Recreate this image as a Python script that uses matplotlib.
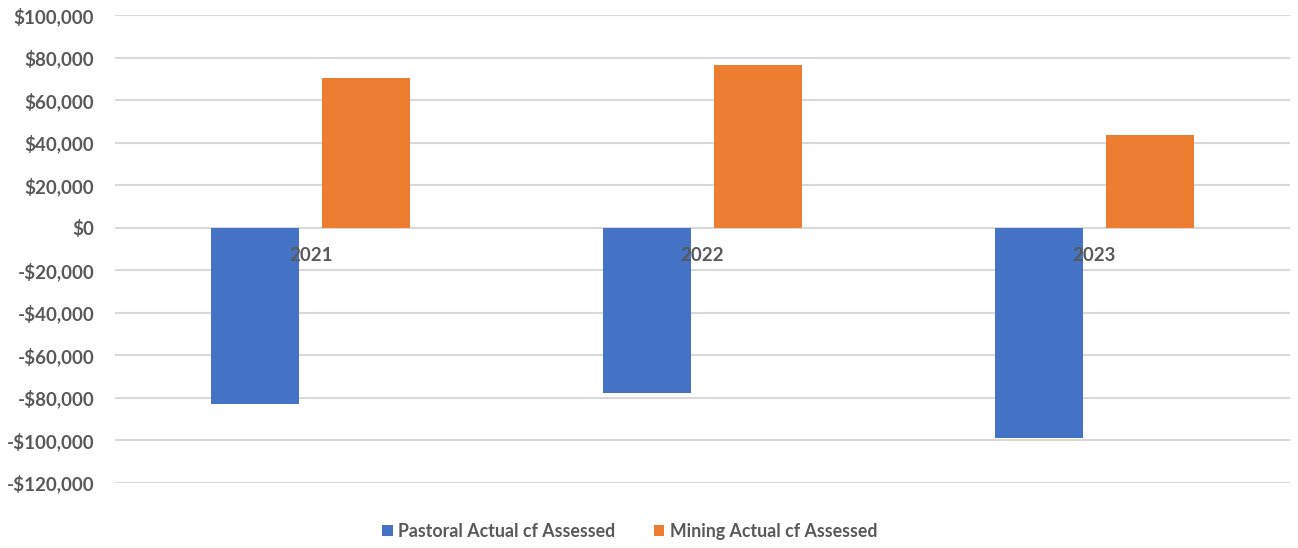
import matplotlib.pyplot as plt
import matplotlib.ticker as mticker
import numpy as np

years = ['2021', '2022', '2023']
pastoral = [-83000, -77900, -98800]
mining = [70400, 76500, 43500]
series_names = ['Pastoral Actual cf Assessed', 'Mining Actual cf Assessed']

blue = '#4472C4'
orange = '#ED7D31'
text_grey = '#595959'

plt.rcParams['font.family'] = ['Lato', 'DejaVu Sans']
plt.rcParams['font.weight'] = 'bold'

fig = plt.figure(figsize=(12.98, 5.48), dpi=100)
ax = fig.add_axes([0.0886, 0.1192, 0.9052, 0.8534])

x = np.arange(len(years))
w = 0.2245
off = 0.1416
b1 = ax.bar(x - off, pastoral, w, color=blue, label=series_names[0], zorder=3)
b2 = ax.bar(x + off, mining, w, color=orange, label=series_names[1], zorder=3)

ax.set_xlim(-0.5, len(years) - 0.5)
ax.set_ylim(-120000, 100000)
ax.set_yticks(np.arange(-120000, 100001, 20000))
ax.yaxis.set_major_formatter(mticker.FuncFormatter(
    lambda v, p: f'-${abs(v):,.0f}' if v < 0 else f'${v:,.0f}'))
ax.tick_params(axis='y', length=0, pad=15, labelsize=13.5, labelcolor=text_grey)
ax.set_xticks([])
ax.grid(axis='y', color='#d9d9d9', linewidth=1.5, zorder=0)
for s in ax.spines.values():
    s.set_visible(False)

# year labels sit just under the zero line
for i, yr in enumerate(years):
    ax.annotate(yr, (i, 0), xytext=(0, -20), textcoords='offset points',
                ha='center', va='center', fontsize=13.5, color=text_grey,
                fontweight='bold', zorder=4)

leg = fig.legend(handles=[b1, b2], loc='center', bbox_to_anchor=(0.485, 0.031),
                 ncol=2, frameon=False, fontsize=12.8, handlelength=0.6,
                 handleheight=0.6, handletextpad=0.3, columnspacing=2.15)
for t in leg.get_texts():
    t.set_color(text_grey)

fig.savefig('out.png', dpi=100)
